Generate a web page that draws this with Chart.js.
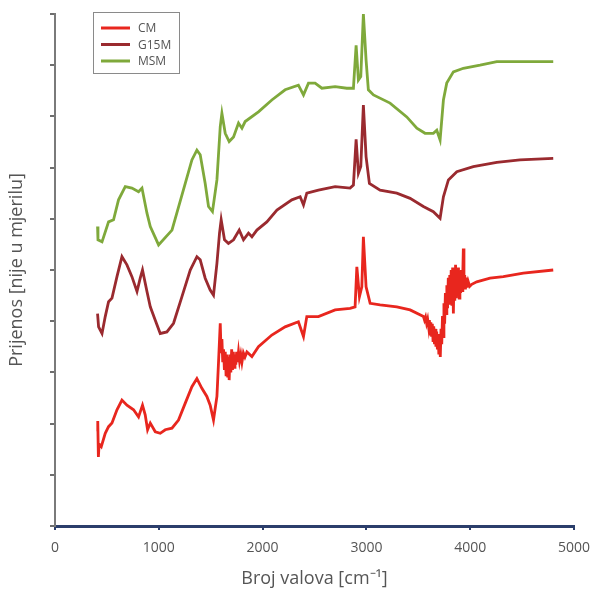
<!DOCTYPE html>
<html>
<head>
<meta charset="utf-8">
<script src="https://cdn.jsdelivr.net/npm/chart.js@4"></script>
<style>
  html, body { margin: 0; padding: 0; background: #fff; }
  #wrap { width: 600px; height: 594px; }
</style>
</head>
<body>
<div id="wrap"><canvas id="chart" width="600" height="594"></canvas></div>
<script>
// values (y is an arbitrary offset scale 0..10)
const cmX = [405, 412, 418, 425, 446, 484, 516, 549, 597, 645, 693, 757, 805, 843, 869, 892, 918, 966, 1014, 1062, 1127, 1190, 1255, 1319, 1367, 1415, 1463, 1495, 1527, 1560, 1575, 1592, 1600, 1608, 1616, 1624, 1632, 1640, 1648, 1656, 1664, 1671, 1678, 1686, 1694, 1702, 1710, 1718, 1726, 1734, 1742, 1750, 1758, 1768, 1778, 1790, 1801, 1815, 1830, 1849, 1897, 1960, 2089, 2217, 2345, 2394, 2426, 2538, 2699, 2843, 2891, 2908, 2933, 2956, 2971, 2997, 3036, 3132, 3293, 3421, 3550, 3560, 3570, 3580, 3590, 3600, 3607, 3614, 3621, 3628, 3635, 3642, 3649, 3656, 3663, 3670, 3677, 3684, 3691, 3698, 3705, 3712, 3719, 3726, 3733, 3740, 3747, 3754, 3761, 3768, 3775, 3782, 3789, 3796, 3803, 3810, 3817, 3824, 3831, 3838, 3845, 3852, 3859, 3866, 3873, 3880, 3887, 3894, 3901, 3908, 3915, 3922, 3929, 3934, 3940, 3947, 3954, 3961, 3968, 3980, 3995, 4015, 4063, 4191, 4319, 4512, 4800];
const cmY = [1.85, 2.05, 1.35, 1.6, 1.55, 1.81, 1.94, 2.01, 2.27, 2.46, 2.36, 2.27, 2.13, 2.36, 2.17, 1.88, 2.01, 1.84, 1.81, 1.88, 1.91, 2.07, 2.40, 2.72, 2.88, 2.69, 2.53, 2.36, 2.07, 2.53, 3.18, 3.96, 3.40, 3.65, 3.20, 3.45, 3.05, 3.40, 2.95, 3.35, 2.90, 3.30, 2.85, 3.35, 3.00, 3.45, 3.05, 3.40, 3.10, 3.35, 3.15, 3.40, 3.20, 3.40, 3.22, 3.35, 3.20, 3.38, 3.30, 3.40, 3.31, 3.50, 3.73, 3.89, 3.99, 3.70, 4.09, 4.09, 4.22, 4.25, 4.28, 5.06, 4.48, 4.67, 5.65, 4.67, 4.35, 4.32, 4.28, 4.22, 4.09, 4.02, 4.08, 3.96, 4.04, 3.88, 4.02, 3.75, 3.98, 3.70, 3.95, 3.62, 3.90, 3.55, 3.85, 3.50, 3.80, 3.45, 3.75, 3.35, 3.70, 3.30, 3.85, 3.55, 4.10, 3.70, 4.35, 3.95, 4.55, 4.15, 4.70, 4.25, 4.85, 4.35, 4.90, 4.40, 5.00, 4.30, 5.05, 4.15, 4.95, 4.40, 5.10, 4.45, 5.00, 4.50, 5.05, 4.45, 4.95, 4.55, 5.00, 4.60, 4.95, 5.42, 4.65, 4.90, 4.62, 4.85, 4.66, 4.78, 4.68, 4.72, 4.77, 4.84, 4.87, 4.94, 5.00];

const g15mX = [410, 420, 453, 484, 516, 549, 597, 645, 693, 741, 790, 821, 843, 886, 918, 966, 1014, 1078, 1142, 1223, 1303, 1367, 1399, 1447, 1495, 1527, 1560, 1585, 1601, 1633, 1671, 1720, 1775, 1816, 1864, 1897, 1945, 2041, 2138, 2282, 2362, 2394, 2426, 2538, 2699, 2843, 2875, 2901, 2923, 2946, 2971, 2997, 3029, 3132, 3293, 3421, 3549, 3645, 3710, 3742, 3790, 3871, 4030, 4256, 4480, 4800];
const g15mY = [4.15, 3.89, 3.76, 4.09, 4.38, 4.45, 4.87, 5.26, 5.10, 4.87, 4.58, 4.84, 5.00, 4.58, 4.28, 4.02, 3.76, 3.79, 3.96, 4.48, 5.00, 5.26, 5.20, 4.84, 4.61, 4.51, 5.13, 5.72, 5.98, 5.59, 5.52, 5.59, 5.78, 5.59, 5.72, 5.65, 5.78, 5.94, 6.17, 6.37, 6.43, 6.27, 6.50, 6.56, 6.63, 6.60, 6.66, 7.55, 6.89, 7.02, 8.22, 7.21, 6.69, 6.56, 6.50, 6.40, 6.24, 6.14, 6.01, 6.43, 6.76, 6.92, 7.02, 7.10, 7.15, 7.18];

const msmX = [410, 414, 453, 516, 564, 612, 677, 741, 805, 838, 886, 918, 998, 1127, 1255, 1319, 1367, 1399, 1447, 1479, 1517, 1560, 1592, 1608, 1640, 1678, 1720, 1768, 1801, 1832, 1960, 2089, 2217, 2345, 2394, 2442, 2506, 2571, 2699, 2811, 2875, 2901, 2923, 2946, 2971, 2997, 3019, 3068, 3228, 3389, 3486, 3565, 3645, 3678, 3710, 3742, 3774, 3838, 3934, 4095, 4256, 4480, 4800];
const msmY = [5.85, 5.59, 5.55, 5.94, 5.98, 6.37, 6.63, 6.60, 6.53, 6.60, 6.11, 5.85, 5.49, 5.78, 6.69, 7.15, 7.34, 7.25, 6.69, 6.24, 6.14, 6.76, 7.80, 8.06, 7.67, 7.51, 7.60, 7.87, 7.77, 7.90, 8.09, 8.32, 8.52, 8.61, 8.42, 8.65, 8.65, 8.55, 8.58, 8.55, 8.55, 9.39, 8.71, 8.78, 10.0, 9.10, 8.52, 8.42, 8.26, 7.99, 7.77, 7.67, 7.67, 7.73, 7.54, 8.32, 8.65, 8.87, 8.94, 9.00, 9.07, 9.07, 9.07];

const seriesNames = ['CM', 'G15M', 'MSM'];
const seriesColors = ['#e8261e', '#9a2a2f', '#7fa93b'];

const xTitle = 'Broj valova [cm\u207B\u00B9]';
const yTitle = 'Prijenos [nije u mjerilu]';

function toPoints(xs, ys) {
  return xs.map((x, i) => ({ x: x, y: ys[i] }));
}

// legend with a frame inside the plot, top left
const boxLegend = {
  id: 'boxLegend',
  afterDraw(chart) {
    const ctx = chart.ctx;
    ctx.save();
    ctx.strokeStyle = '#8a8a8a';
    ctx.lineWidth = 1;
    ctx.strokeRect(93.5, 12.5, 86, 61);
    ctx.font = '12px "Open Sans"';
    ctx.textBaseline = 'middle';
    chart.data.datasets.forEach((ds, i) => {
      const y = 28 + i * 16.5;
      ctx.strokeStyle = ds.borderColor;
      ctx.lineWidth = 3;
      ctx.beginPath();
      ctx.moveTo(101, y);
      ctx.lineTo(130, y);
      ctx.stroke();
      ctx.fillStyle = '#555';
      ctx.fillText(ds.label, 138, y + 1);
    });
    ctx.restore();
  }
};

const ctx = document.getElementById('chart').getContext('2d');
new Chart(ctx, {
  type: 'line',
  data: {
    datasets: [
      { label: seriesNames[0], data: toPoints(cmX, cmY), borderColor: seriesColors[0] },
      { label: seriesNames[1], data: toPoints(g15mX, g15mY), borderColor: seriesColors[1] },
      { label: seriesNames[2], data: toPoints(msmX, msmY), borderColor: seriesColors[2] }
    ]
  },
  options: {
    responsive: false,
    animation: false,
    elements: {
      point: { radius: 0 },
      line: { borderWidth: 2.8, tension: 0 }
    },
    layout: { padding: { top: 14, right: 26, left: 0, bottom: 0 } },
    plugins: {
      legend: { display: false },
      tooltip: { enabled: false }
    },
    scales: {
      x: {
        type: 'linear',
        min: 0,
        max: 5000,
        ticks: {
          stepSize: 1000,
          color: '#555',
          font: { family: 'Open Sans', size: 14 },
          padding: 10,
          callback: (v) => String(v)
        },
        grid: {
          drawOnChartArea: false,
          color: '#2b3e6b',
          tickLength: 4,
          lineWidth: 2
        },
        border: { color: '#2b3e6b', width: 3 },
        title: {
          display: true,
          text: xTitle,
          color: '#555',
          font: { family: 'Open Sans', size: 18 },
          padding: { top: 6, bottom: 4 }
        },
        afterFit(scale) { scale.height = 68; }
      },
      y: {
        min: 0,
        max: 10,
        ticks: { stepSize: 1, display: false },
        grid: {
          drawOnChartArea: false,
          color: '#6e6e6e',
          tickLength: 5,
          lineWidth: 2
        },
        border: { color: '#7a7a7a', width: 2 },
        title: {
          display: true,
          text: yTitle,
          color: '#555',
          font: { family: 'Open Sans', size: 18 },
          padding: { top: 6, bottom: 0 }
        },
        afterFit(scale) { scale.width = 55; }
      }
    }
  },
  plugins: [boxLegend]
});
</script>
</body>
</html>
